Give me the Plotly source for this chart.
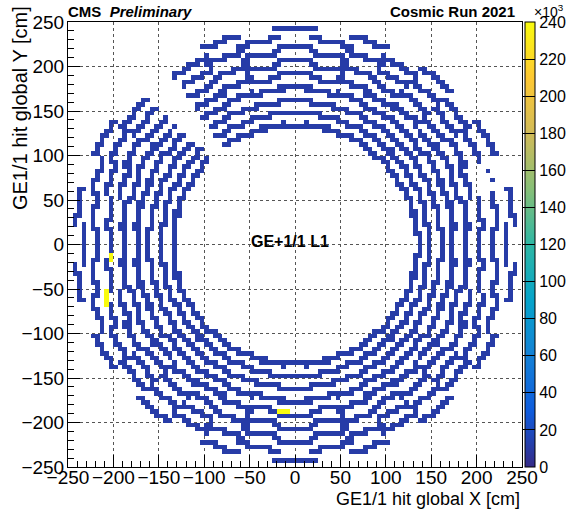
import numpy as np
import plotly.graph_objects as go

# ---- detector layout (GE+1/1, layer 1) ----
# chamber centres in degrees; the chamber at 130 deg gave no hits
chamber_phi = [0, 10, 20, 30, 40, 50, 60, 70, 80, 90, 100, 110, 120,
               140, 150, 160, 170, 180, 190, 200, 210, 220, 230, 240,
               250, 260, 270, 280, 290, 300, 310, 320, 330, 340, 350]
chamber_type = ["S" if (p // 10) % 2 == 0 else "L" for p in chamber_phi]

# eta-partition centre radii (cm), outer -> inner
long_radii = [242, 224, 207, 191, 176, 161, 147, 134]
short_radii = [231, 216, 201, 187, 174, 161, 148, 135]

# partitions without hits: (chamber phi, partition index from the outside)
dead_chamber = [20, 20]
dead_partition = [0, 1]

chamber_half_width_deg = 5.075
strips_per_partition = 384

# hit occupancy (thousands of hits per 5 cm x 5 cm bin)
base_occupancy = 11.0
# isolated bins with a few hits
stray_x = [212.5, 217.5]
stray_y = [82.5, 72.5]
# hot strips
hot_x = [-202.5, -202.5, -207.5, -207.5, -207.5, -207.5, -17.5, -12.5, -7.5]
hot_y = [-12.5, -17.5, -52.5, -57.5, -62.5, -67.5, -187.5, -187.5, -187.5]
hot_val = [240, 240, 240, 240, 240, 240, 240, 240, 240]

# ---- histogram binning ----
edges = np.linspace(-250, 250, 101)
centres = 0.5 * (edges[:-1] + edges[1:])

dead = set(zip(dead_chamber, dead_partition))
xs, ys = [], []
strip_offsets = np.radians(np.linspace(-chamber_half_width_deg, chamber_half_width_deg,
                                       strips_per_partition))
for phi, kind in zip(chamber_phi, chamber_type):
    radii = long_radii if kind == "L" else short_radii
    c, s = np.cos(np.radians(phi)), np.sin(np.radians(phi))
    for ieta, r in enumerate(radii):
        if (phi, ieta) in dead:
            continue
        along = r * np.tan(strip_offsets)
        xs.append(r * c - along * s)
        ys.append(r * s + along * c)
xs = np.concatenate(xs + [np.array(stray_x)])
ys = np.concatenate(ys + [np.array(stray_y)])

counts, _, _ = np.histogram2d(xs, ys, bins=[edges, edges])
z = np.where(counts.T > 0, base_occupancy, np.nan)
for hx, hy, hv in zip(hot_x, hot_y, hot_val):
    ix = int(np.searchsorted(edges, hx) - 1)
    iy = int(np.searchsorted(edges, hy) - 1)
    z[iy, ix] = hv

# ROOT "bird" palette
bird = [
    (0.2082, 0.1664, 0.5293), (0.0592, 0.3599, 0.8684), (0.0780, 0.5041, 0.8385),
    (0.0232, 0.6419, 0.7914), (0.1802, 0.7178, 0.6425), (0.5301, 0.7492, 0.4662),
    (0.8186, 0.7328, 0.3499), (0.9956, 0.7862, 0.1968), (0.9764, 0.9832, 0.0539),
]
colorscale = [[i / 8, "rgb(%d,%d,%d)" % tuple(int(round(v * 255)) for v in col)]
              for i, col in enumerate(bird)]

FONT = "Liberation Sans, Arial, Helvetica, sans-serif"

fig = go.Figure(go.Heatmap(
    x=centres, y=centres, z=z,
    zmin=0, zmax=240, colorscale=colorscale, zsmooth=False,
    hoverongaps=False,
    colorbar=dict(
        x=1.0066, xanchor="left", xpad=0, y=0.5, yanchor="middle",
        len=1.0, lenmode="fraction", thickness=10, ypad=0,
        outlinecolor="black", outlinewidth=1,
        tickmode="array", tickvals=list(range(0, 241, 20)),
        ticks="inside", ticklen=12, tickcolor="black",
        tickfont=dict(family=FONT, size=16, color="black"),
    ),
))

axis_common = dict(
    range=[-250, 250], showline=True, linecolor="black", linewidth=1, mirror=True,
    ticks="inside", ticklen=12, tickcolor="black", dtick=50, tick0=0,
    minor=dict(ticks="inside", ticklen=6, dtick=10, tickcolor="black", showgrid=False),
    showgrid=True, gridcolor="#555555", griddash="dot", gridwidth=1,
    zeroline=False, tickfont=dict(family=FONT, size=19, color="black"),
)

fig.update_layout(
    width=567, height=510,
    margin=dict(l=68, r=45, t=22, b=43, autoexpand=False),
    paper_bgcolor="white", plot_bgcolor="white",
    xaxis=dict(axis_common, ticklabelstandoff=-7),
    yaxis=dict(axis_common, ticklabelstandoff=-1),
    showlegend=False,
    annotations=[
        dict(text="GE1/1 hit global X [cm]", xref="paper", yref="paper",
             x=1.0, y=-0.072, xanchor="right", yanchor="middle", showarrow=False,
             font=dict(family=FONT, size=18, color="black")),
        dict(text="GE1/1 hit global Y [cm]", xref="paper", yref="paper",
             x=-0.106, y=1.04, xanchor="center", yanchor="top", textangle=-90,
             showarrow=False, font=dict(family=FONT, size=20, color="black")),
        dict(text="<b>CMS</b>  <b><i>Preliminary</i></b>", xref="paper", yref="paper",
             x=-0.004, y=1.0, xanchor="left", yanchor="bottom", showarrow=False,
             font=dict(family=FONT, size=15, color="black")),
        dict(text="<b>Cosmic Run 2021</b>", xref="paper", yref="paper",
             x=0.988, y=1.0, xanchor="right", yanchor="bottom", showarrow=False,
             font=dict(family=FONT, size=15, color="black")),
        dict(text="×10<sup>3</sup>", xref="paper", yref="paper",
             x=1.022, y=1.0, xanchor="left", yanchor="bottom", showarrow=False,
             font=dict(family=FONT, size=14, color="black")),
        dict(text="<b>GE+1/1 L1</b>", xref="x", yref="y",
             x=-5, y=3, xanchor="center", yanchor="middle", showarrow=False,
             font=dict(family=FONT, size=16, color="black")),
    ],
)

fig.write_html("out.html")
